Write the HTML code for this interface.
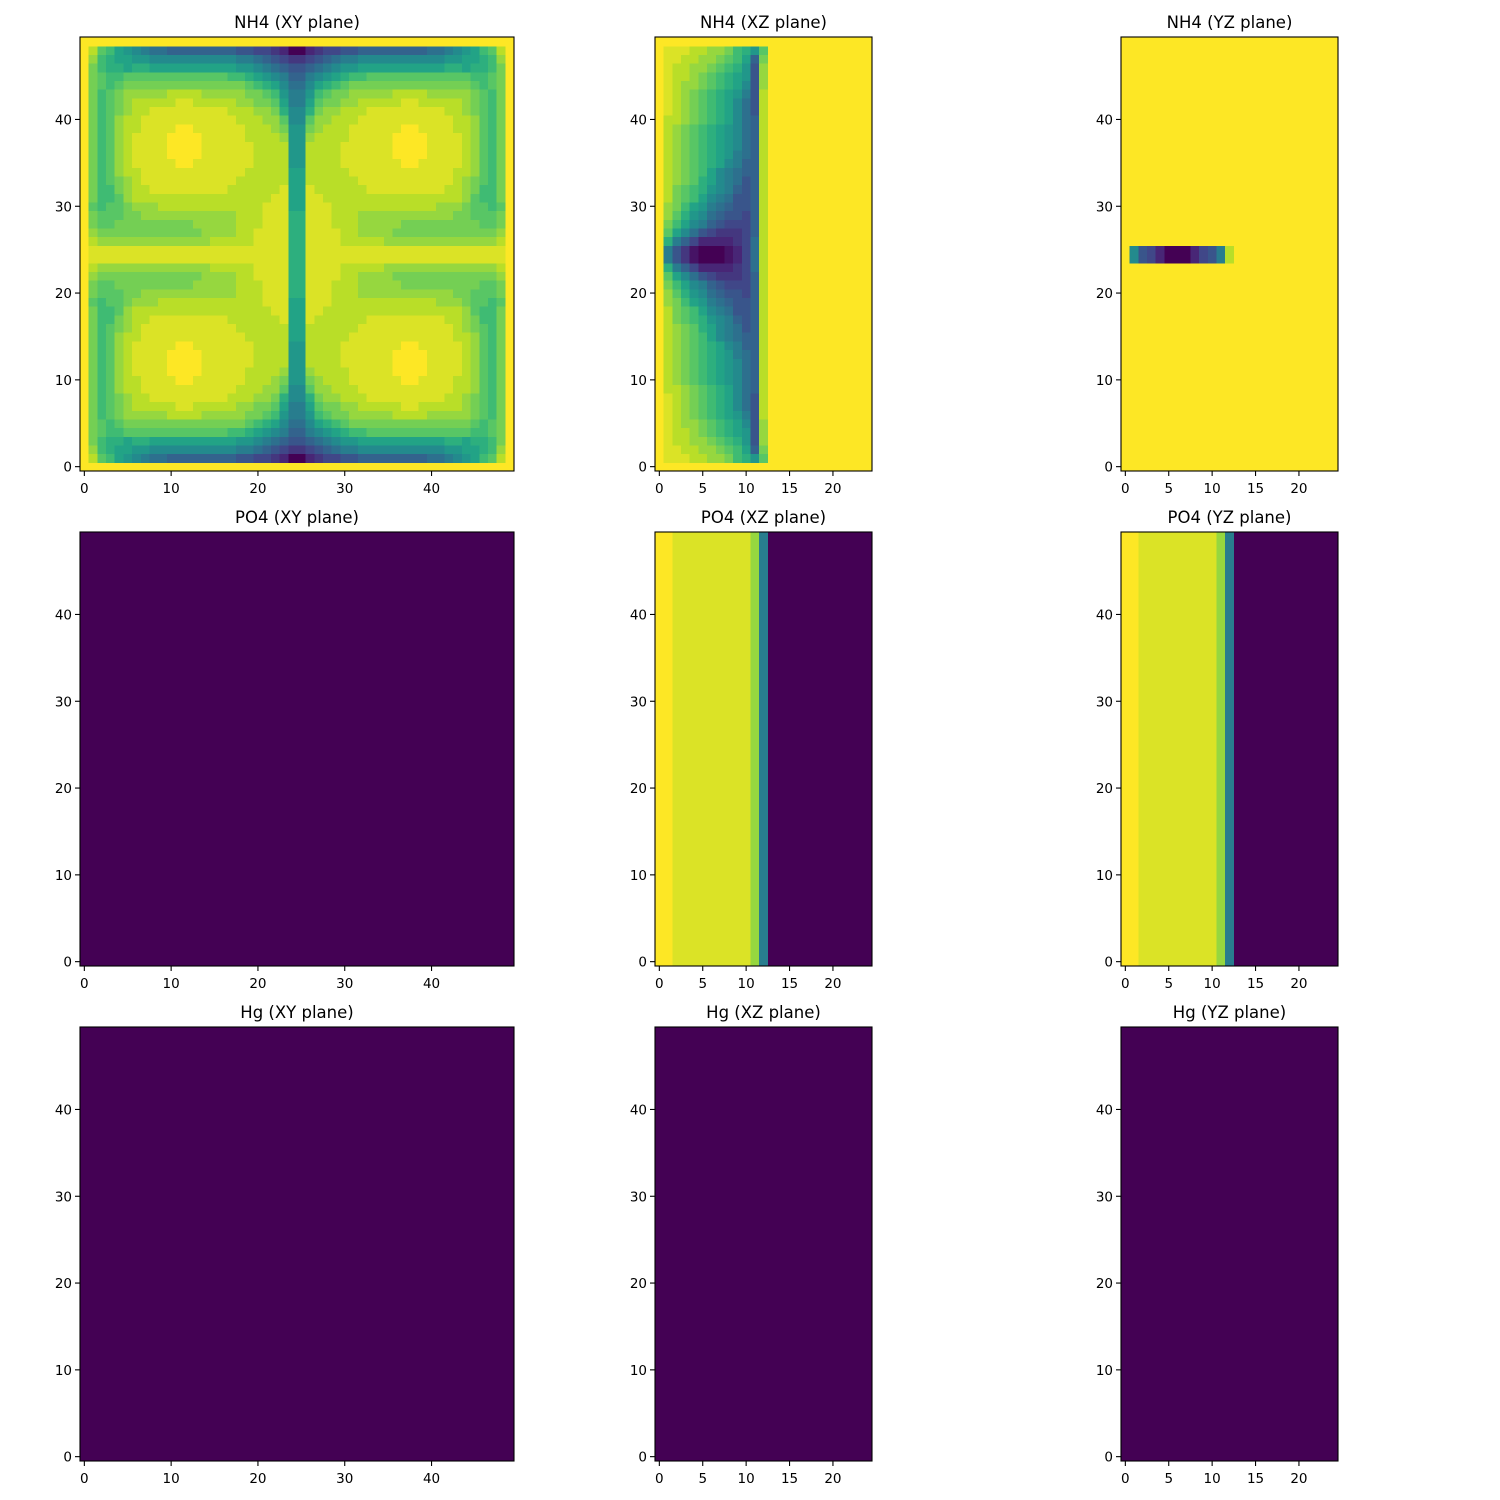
<!DOCTYPE html>
<html><head><meta charset="utf-8">
<style>
html,body{margin:0;padding:0;background:#fff;}
svg{display:block;font-family:"DejaVu Sans","Liberation Sans",sans-serif;}
</style></head>
<body>
<svg id="fig" width="1500" height="1500" viewBox="0 0 1500 1500" xmlns="http://www.w3.org/2000/svg"></svg>
<script>
// Level codes: 0..9,A..J  -> value = index/19 (viridis colormap)
const levelChars = "0123456789ABCDEFGHIJ";

// NH4 XY plane: lower-left quadrant (rows from bottom 0..24, cols 0..24); field is mirror-symmetric
const nh4XYQuadrant = [
"JJJJJJJJJJJJJJJJJJJJJJJJJ",
"JHEDBA9877666666665544320",
"JGDCBBAA99999999998876543",
"JFDCCBCCBBBBBBBBBBAA98765",
"JFEDDEEEEEEEEEEEEDDCBA986",
"JFEDEFFFFFFFFFFFFFFEDCB97",
"JFDEFGGGGGHHHHGGGGGFFEDA8",
"JFDEFGHHHHHIIHHHHHGGFFEB8",
"JFDEFGHHIIIIIIIIIHHHGGFC9",
"JFDEGHHIIIIIIIIIIIHHHGGE9",
"JFDEGHHIIIIJJIIIIIIHHHGFA",
"JFDEGHIIIIJJJJIIIIIHHHHGA",
"JFDEGHIIIIJJJJIIIIIIHHHHA",
"JFDEGHIIIIJJJJIIIIIIHHHHA",
"JFDEGHIIIIIJJIIIIIIIHHHHA",
"JFDEGHHIIIIIIIIIIIIHHHHHB",
"JFDEFGHIIIIIIIIIIIHHHHHHB",
"JFDDFGHHIIIIIIIIIHHHHHHIB",
"JFDDEGHHHHHHHHHHHHHHHHIIB",
"JEDEEFGGGHHHHHHHHHHHHIIIB",
"JFEEEFFGGGGGGGGGGGHHHIIIC",
"JFEEFFFFFFFFFGGGGGHHHIIIC",
"JGFFFFFFFFFFFFGGGGHHIIIIC",
"JHGGGGGGGGGGGGGHHHHHIIIIC",
"JIIIIIIIIIIIIIIIIIIIIIIIC"
];
// NH4 XZ plane: lower half rows 0..24, cols 0..12 (cols 13..24 are 'J'); mirrored vertically
const nh4XZHalf = [
"JJJJJJJJJJJJJ",
"JIIIHHGGFDCAE",
"JIIHHGGFEDB6F",
"JIHHGGFEDCA5G",
"JIHHGFEDCBA5G",
"JIHGGFEDCB95G",
"JIHGFEDCBA85H",
"JIHGFEDCB975H",
"JIHGFEDCB975H",
"JHHGFEDCB976H",
"JHGFEDCBA976H",
"JHGFEDCBA976H",
"JHGFEDCBA976H",
"JHGFEDCBA876H",
"JHGFEDCB9866H",
"JHGFEDB98766H",
"JHGFECB98756H",
"JHFEDCA98656H",
"JHFEDB987556H",
"JGFDBA876556H",
"JGECA9765546H",
"JFDB98654446H",
"JEB975433346H",
"JC8642222347H",
"J85310001247H"
];
// NH4 YZ plane: dark bar at rows 24-25
const nh4YZBar = "J95420002458H";
const nh4YZBarRows = [24, 25];
// PO4 XZ / YZ column profile (same for all rows)
const po4XZProfile = "JJIIIIIIIIIG8000000000000";
const po4YZProfile = "JJIIIIIIIIIG8000000000000";
// PO4 XY, Hg all planes: uniform minimum
const uniformLevel = "0";

const xyTicks = [0, 10, 20, 30, 40];
const zTicks = [0, 5, 10, 15, 20];
const yTicks = [0, 10, 20, 30, 40];
const species = ["NH4", "PO4", "Hg"];
const planes = ["XY plane", "XZ plane", "YZ plane"];

const vir = ["#440154","#482475","#414487","#355f8d","#2a788e","#21918c","#22a884","#44bf70","#7ad151","#bddf26","#fde725"];
function hex(h){return [parseInt(h.slice(1,3),16),parseInt(h.slice(3,5),16),parseInt(h.slice(5,7),16)];}
const virRGB = vir.map(hex);
function viridis(v){
  v = Math.max(0, Math.min(1, v));
  const t = v * 10, i = Math.min(9, Math.floor(t)), f = t - i;
  const a = virRGB[i], b = virRGB[i+1];
  return "rgb(" + a.map((x,k)=>Math.round(x + (b[k]-x)*f)).join(",") + ")";
}
function lv(ch){return levelChars.indexOf(ch) / 19;}

function buildXY(){
  const g = [];
  for (let r = 0; r < 50; r++){
    const qr = r < 25 ? r : 49 - r; const row = [];
    for (let c = 0; c < 50; c++){ const qc = c < 25 ? c : 49 - c; row.push(lv(nh4XYQuadrant[qr][qc])); }
    g.push(row);
  }
  return g;
}
function buildXZ(){
  const g = [];
  for (let r = 0; r < 50; r++){
    const qr = r < 25 ? r : 49 - r; const s = nh4XZHalf[qr]; const row = [];
    for (let c = 0; c < 25; c++) row.push(lv(c < s.length ? s[c] : "J"));
    g.push(row);
  }
  return g;
}
function buildYZ(){
  const g = [];
  for (let r = 0; r < 50; r++){
    const s = nh4YZBarRows.includes(r) ? nh4YZBar : "";
    const row = [];
    for (let c = 0; c < 25; c++) row.push(lv(c < s.length ? s[c] : "J"));
    g.push(row);
  }
  return g;
}
function buildProfile(p){
  const g = [];
  for (let r = 0; r < 50; r++){ const row = []; for (let c = 0; c < 25; c++) row.push(lv(p[c])); g.push(row); }
  return g;
}
function buildUniform(nr, nc){
  const g = [];
  for (let r = 0; r < nr; r++){ const row = []; for (let c = 0; c < nc; c++) row.push(lv(uniformLevel)); g.push(row); }
  return g;
}

const grids = [
  [buildXY(), buildXZ(), buildYZ()],
  [buildUniform(50,50), buildProfile(po4XZProfile), buildProfile(po4YZProfile)],
  [buildUniform(50,50), buildUniform(50,25), buildUniform(50,25)]
];

const NS = "http://www.w3.org/2000/svg";
const svg = document.getElementById("fig");
function el(tag, attrs, parent){
  const e = document.createElementNS(NS, tag);
  for (const k in attrs) e.setAttribute(k, attrs[k]);
  (parent || svg).appendChild(e);
  return e;
}
const cell = 8.68;
const colLeft = [80, 655, 1121];
const rowTop = [37, 532, 1027];

for (let i = 0; i < 3; i++){
  for (let j = 0; j < 3; j++){
    const grid = grids[i][j];
    const nr = grid.length, nc = grid[0].length;
    const x0 = colLeft[j], y0 = rowTop[i], W = nc * cell, H = nr * cell;
    const g = el("g", {});
    
    
    const sx = v => x0 + (v + 0.5) * cell;
    const sy = v => y0 + H - (v + 0.5) * cell;
    const hm = el("g", {"shape-rendering":"crispEdges"}, g);
    
    
    for (let r = 0; r < nr; r++){
      for (let c = 0; c < nc; c++){
        const rc = el("rect", {x:(sx(c)-cell/2).toFixed(2), y:(sy(r)-cell/2).toFixed(2), width:(cell+0.6).toFixed(2), height:(cell+0.6).toFixed(2), fill:viridis(grid[r][c])}, hm);
        
        
      }
    }
    const fr = el("rect", {x:x0, y:y0, width:W, height:H, fill:"none", stroke:"#000", "stroke-width":1.1}, g);
    
    
    const xt = (nc === 50) ? xyTicks : zTicks;
    xt.forEach(t => {
      const x = sx(t);
      const tk = el("line", {x1:x, x2:x, y1:y0+H, y2:y0+H+5, stroke:"#000", "stroke-width":1.1}, g);
      
      
      const tl = el("text", {x:x, y:y0+H+22, "font-size":"13.5", "text-anchor":"middle", fill:"#000"}, g);
      tl.textContent = t;
      
      
    });
    yTicks.forEach(t => {
      const y = sy(t);
      const tk = el("line", {x1:x0-5, x2:x0, y1:y, y2:y, stroke:"#000", "stroke-width":1.1}, g);
      
      
      const tl = el("text", {x:x0-8, y:y+5, "font-size":"13.5", "text-anchor":"end", fill:"#000"}, g);
      tl.textContent = t;
      
      
    });
    const tt = el("text", {x:x0+W/2, y:y0-9, "font-size":"16.5", "text-anchor":"middle", fill:"#000"}, g);
    tt.textContent = species[i] + " (" + planes[j] + ")";
    
    
  }
}
</script>
</body></html>
